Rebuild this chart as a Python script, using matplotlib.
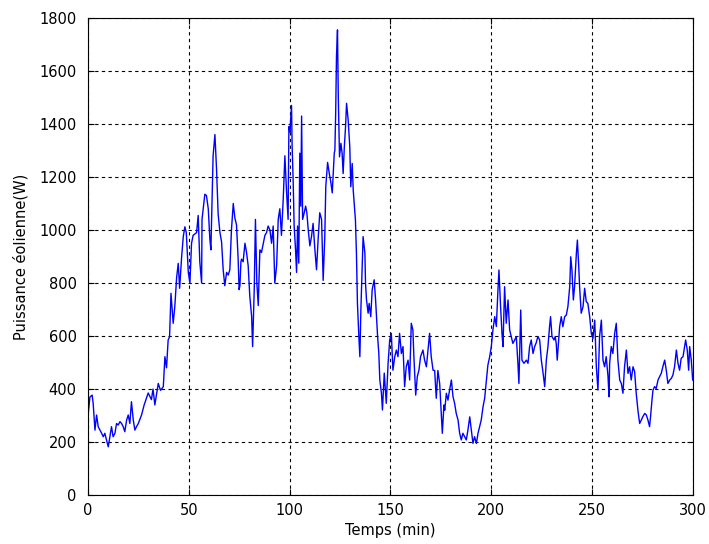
import matplotlib
matplotlib.use("Agg")
import matplotlib.pyplot as plt

# Time (min) and wind power (W)
t = [0, 1, 2.1, 2.6, 3.5, 4.3, 5.1, 6.8, 7.6, 8.4, 9.2, 10.1, 10.9, 11.7, 12.5, 13.4, 14.2, 15, 15.9, 16.7,
     17.5, 18.3, 19.2, 20, 20.8, 21.6, 22.5, 23.3, 24.1, 25, 26.6, 27.9, 29.9, 31.5, 32.3, 33.2, 34.9, 36, 37.4, 38.2,
     39, 39.8, 40.5, 41.2, 42.3, 43.1, 44, 44.8, 45.5, 46.5, 47.3, 48.1, 48.8, 49.8, 50.6, 51.4, 52.2, 53.9, 54.7, 55.5,
     56.4, 56.6, 58, 58.8, 59.7, 60.5, 61, 62.1, 63, 63.8, 64.6, 65.5, 66.3, 67.1, 67.9, 68.8, 69.6, 70.4, 71.2, 72.1,
     72.9, 73.7, 74.5, 75, 75.4, 75.9, 76.2, 77, 77.9, 78.7, 79.5, 80.3, 81.2, 81.7, 82.5, 83.1, 83.8, 84.5, 85.3, 86.1,
     87, 87.8, 88.6, 89.4, 90.3, 91.1, 91.9, 92.7, 93.6, 94.4, 95.2, 96, 96.9, 97.7, 98.5, 99.3, 99.7, 100.2, 101, 101.3,
     101.8, 102.3, 103, 103.5, 104, 104.6, 105.1, 105.6, 106, 106.5, 107.3, 108, 108.6, 109.3, 110.1, 110.9, 111.7, 112.6, 113.4, 114.2,
     115, 115.9, 116.7, 117.5, 118, 118.9, 119.7, 120.5, 121.2, 122.2, 122.5, 122.9, 123.3, 123.8, 124.2, 124.8, 125.5, 126.1, 126.6, 127.2,
     127.8, 128.3, 129.1, 129.9, 130.4, 131.1, 131.6, 132.1, 132.7, 133.2, 133.7, 134.4, 134.9, 135.4, 136, 136.5, 137.4, 137.7, 138.2, 139,
     139.5, 140.3, 141, 142, 142.7, 143.7, 144.3, 144.8, 145.6, 146.1, 147, 148, 148.9, 149.7, 150.5, 151.3, 152.2, 153, 153.8, 154.6,
     155.5, 156.3, 157.1, 157.9, 158.8, 159.6, 160.4, 161.2, 161.7, 162.6, 163.4, 164.2, 165, 166.2, 167, 167.9, 168.7, 169.5, 170.3, 171.2,
     172, 172.8, 173.6, 174.5, 175.3, 175.8, 176.6, 177, 177.8, 178.6, 179.4, 180.3, 181.1, 181.9, 182.7, 183.6, 184.4, 185.2, 186, 186.9,
     187.7, 188.5, 189.4, 190.2, 191, 191.8, 192.7, 193.5, 194.3, 195.1, 196, 196.8, 197.6, 198.4, 199.3, 200.1, 200.9, 201.8, 202.6, 203.4,
     203.9, 204.7, 205.4, 205.9, 206.7, 207.5, 208.4, 209.2, 210, 210.8, 211.7, 212.5, 213.3, 213.8, 214.7, 215.3, 216.3, 217.5, 218.3, 219.1,
     219.9, 220.8, 221.6, 222.4, 223.2, 224.1, 224.9, 225.7, 226.6, 227.4, 228.2, 229, 229.5, 230.2, 231.2, 231.8, 232.3, 232.8, 233.5, 234,
     234.8, 235.6, 236.5, 237.3, 238.1, 239, 239.5, 240.1, 240.8, 241.4, 242.3, 242.8, 243.4, 243.9, 244.7, 245.6, 246.4, 247.2, 248, 248.9,
     249.7, 250.5, 251.4, 252.2, 253, 253.8, 254.7, 255.5, 256.3, 257.1, 258, 258.5, 258.8, 259.6, 260.4, 261.3, 262.1, 262.9, 263.8, 264.6,
     265.4, 266.2, 267.1, 267.9, 268.7, 269.5, 270.4, 271.2, 272, 272.9, 273.7, 274.5, 275.3, 276.2, 277, 277.8, 278.6, 279.1, 279.8, 280.3,
     281.1, 281.9, 282.8, 283.6, 284.4, 285.2, 286.1, 286.9, 287.7, 288.6, 289.4, 290.2, 291, 291.9, 292.7, 293.5, 294.3, 295.2, 296, 296.5,
     297.3, 298, 298.5, 299.3, 300]

power = [295, 370, 377, 346, 245, 302, 258, 233, 220, 233, 208, 182, 220, 258, 220, 233, 270, 264, 277, 270,
         258, 239, 283, 302, 270, 352, 283, 245, 258, 270, 302, 340, 385, 360, 400, 340, 421, 395, 409, 522,
         480, 585, 597, 761, 648, 711, 820, 874, 780, 900, 975, 1012, 990, 840, 800, 950, 980, 990, 1055, 880,
         800, 1040, 1135, 1130, 1080, 965, 925, 1280, 1360, 1230, 1060, 990, 955, 850, 790, 840, 830, 850, 1000, 1100,
         1045, 1020, 895, 775, 790, 880, 890, 880, 950, 915, 865, 750, 675, 560, 775, 1040, 800, 715, 925, 915,
         950, 980, 990, 1015, 1000, 950, 1015, 800, 865, 1040, 1080, 980, 1120, 1280, 1150, 1040, 1390, 1370, 1470, 1315,
         1190, 1015, 925, 840, 1015, 875, 1290, 1090, 1430, 1040, 1065, 1090, 1065, 1000, 940, 975, 1025, 925, 850, 965,
         1065, 1040, 810, 975, 1165, 1255, 1215, 1180, 1140, 1290, 1300, 1440, 1654, 1755, 1503, 1276, 1327, 1289, 1213, 1314,
         1390, 1478, 1415, 1314, 1163, 1251, 1151, 1100, 1038, 912, 723, 598, 522, 698, 849, 975, 912, 799, 736, 686,
         723, 673, 774, 812, 736, 598, 535, 434, 384, 321, 460, 346, 497, 585, 610, 471, 522, 547, 522, 610,
         534, 560, 409, 484, 509, 434, 648, 623, 522, 377, 447, 471, 522, 547, 509, 484, 547, 610, 522, 471,
         470, 365, 470, 420, 300, 233, 340, 320, 384, 358, 396, 434, 371, 346, 308, 283, 233, 208, 233, 220,
         208, 245, 295, 245, 195, 220, 195, 233, 258, 283, 333, 365, 428, 490, 522, 560, 623, 673, 636, 774,
         849, 711, 610, 560, 786, 648, 736, 623, 598, 572, 585, 598, 497, 421, 698, 509, 497, 509, 497, 560,
         585, 534, 560, 575, 598, 585, 510, 465, 409, 509, 560, 635, 673, 598, 585, 598, 572, 509, 585, 635,
         673, 635, 673, 679, 711, 786, 899, 849, 736, 786, 912, 962, 874, 786, 686, 711, 780, 730, 723, 673,
         610, 590, 660, 484, 396, 598, 660, 509, 484, 522, 447, 371, 497, 560, 534, 610, 648, 509, 434, 421,
         384, 484, 547, 459, 484, 434, 484, 465, 383, 315, 270, 283, 296, 308, 302, 283, 258, 296, 358, 396,
         409, 402, 434, 447, 459, 484, 509, 471, 421, 434, 440, 453, 484, 547, 497, 471, 516, 522, 560, 585,
         547, 471, 560, 509, 434]

x_ticks = [0, 50, 100, 150, 200, 250, 300]
y_ticks = [0, 200, 400, 600, 800, 1000, 1200, 1400, 1600, 1800]

plt.rcParams['font.family'] = ['DejaVu Sans']
fig = plt.figure(figsize=(7.09, 5.44), dpi=100)
ax = fig.add_axes([0.124, 0.090, 0.853, 0.877])
ax.plot(t, power, color=(0, 0, 1), linewidth=1.0)
ax.set_xlim(0, 300)
ax.set_ylim(0, 1800)
ax.set_xticks(x_ticks)
ax.set_yticks(y_ticks)
ax.grid(True, color='black', linestyle=(0, (3, 3)), linewidth=0.8)
ax.tick_params(direction='in', top=True, right=True, labelsize=10.5, length=4)
ax.tick_params(axis='y', pad=8)
ax.tick_params(axis='x', pad=6)
for s in ax.spines.values():
    s.set_linewidth(0.8)
ax.set_xlabel('Temps (min)', fontsize=10.5, labelpad=3)
ax.set_ylabel('Puissance éolienne(W)', fontsize=10.5, labelpad=8)
fig.savefig('out.png', dpi=100)
